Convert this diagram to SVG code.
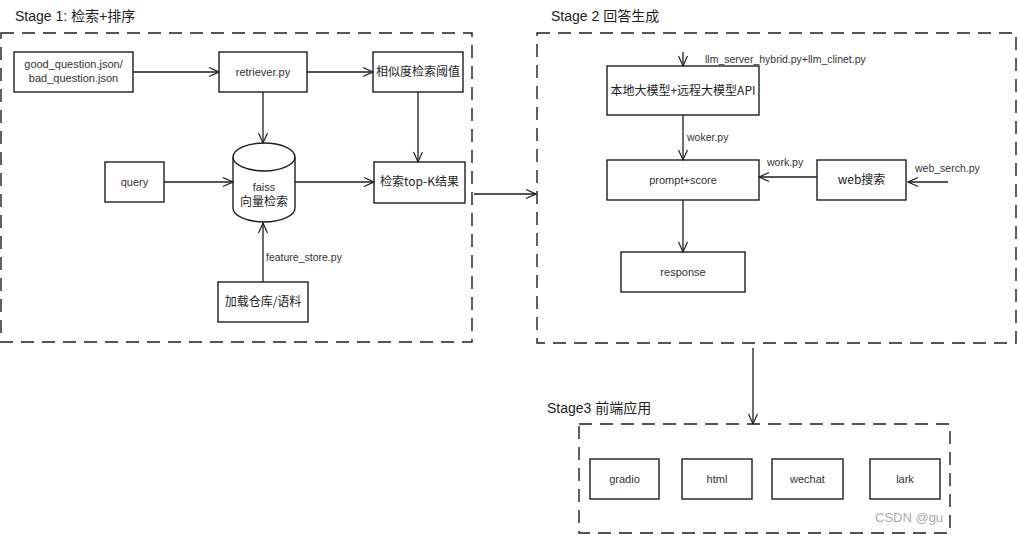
<svg xmlns="http://www.w3.org/2000/svg" width="1018" height="535" viewBox="0 0 1018 535">
<defs>
<marker id="ah" viewBox="0 0 12 12" refX="11" refY="6" markerWidth="12" markerHeight="12" markerUnits="userSpaceOnUse" orient="auto">
<path d="M1,1.5 L11,6 L1,10.5 M3,2.5 L11,6 L3,9.5" fill="none" stroke="#1e1e1e" stroke-width="1.1"/>
</marker>
<style>
.stage{fill:none;stroke:#1e1e1e;stroke-width:1.4;stroke-dasharray:13 8}
.node rect,.node path{fill:#fff;stroke:#1e1e1e;stroke-width:1.4}
.t{font-family:"Liberation Sans","Noto Sans CJK SC",sans-serif;font-size:11px;fill:#333;text-anchor:middle}
.zh{font-family:"Noto Sans CJK SC","Liberation Sans",sans-serif;font-size:12px;fill:#1e1e1e;text-anchor:middle}
.lbl{font-family:"Liberation Sans","Noto Sans CJK SC",sans-serif;font-size:10.5px;fill:#333}
.title{font-family:"Liberation Sans","Noto Sans CJK SC",sans-serif;font-size:14px;fill:#1e1e1e}
.edge{fill:none;stroke:#1e1e1e;stroke-width:1.3;marker-end:url(#ah)}
</style>
</defs>
<rect width="1018" height="535" fill="#fff"/>

<g id="stage1">
<text class="title" x="15" y="21">Stage 1: 检索+排序</text>
<rect class="stage" x="1" y="33" width="471" height="309"/>
</g>
<g id="stage2">
<text class="title" x="551" y="21">Stage 2 回答生成</text>
<rect class="stage" x="537" y="33" width="479" height="310"/>
</g>
<g id="stage3">
<text class="title" x="547" y="413">Stage3 前端应用</text>
<rect class="stage" x="579" y="424" width="371" height="109"/>
</g>

<g id="n-json" class="node">
<rect x="14" y="52" width="119" height="40"/>
<text class="t" x="73.5" y="68">good_question.json/</text>
<text class="t" x="73.5" y="82">bad_question.json</text>
</g>
<g id="n-retriever" class="node">
<rect x="219" y="52" width="88" height="40"/>
<text class="t" x="263" y="76">retriever.py</text>
</g>
<g id="n-threshold" class="node">
<rect x="373" y="52" width="90" height="40"/>
<text class="zh" x="418" y="76">相似度检索阈值</text>
</g>
<g id="n-faiss" class="node">
<path d="M233,157 A31,14 0 0 1 295,157 L295,208 A31,14 0 0 1 233,208 Z"/>
<path d="M233,157 A31,14 0 0 0 295,157" fill="none"/>
<text class="t" x="264" y="191">faiss</text>
<text class="zh" x="264" y="206">向量检索</text>
</g>
<g id="n-query" class="node">
<rect x="105" y="162" width="59" height="40"/>
<text class="t" x="134.5" y="186">query</text>
</g>
<g id="n-topk" class="node">
<rect x="374" y="162" width="91" height="41"/>
<text class="zh" x="419.5" y="186">检索top-K结果</text>
</g>
<g id="n-load" class="node">
<rect x="218" y="282" width="90" height="40"/>
<text class="zh" x="263" y="306">加载仓库/语料</text>
</g>

<g id="n-llm" class="node">
<rect x="607" y="66" width="152" height="49"/>
<text class="zh" x="683" y="95">本地大模型+远程大模型API</text>
</g>
<g id="n-prompt" class="node">
<rect x="607" y="160" width="152" height="40"/>
<text class="t" x="683" y="184">prompt+score</text>
</g>
<g id="n-web" class="node">
<rect x="817" y="160" width="89" height="40"/>
<text class="zh" x="861.5" y="184">web搜索</text>
</g>
<g id="n-response" class="node">
<rect x="621" y="252" width="124" height="40"/>
<text class="t" x="683" y="276">response</text>
</g>

<g id="n-gradio" class="node">
<rect x="590" y="459" width="69" height="40"/>
<text class="t" x="624.5" y="483">gradio</text>
</g>
<g id="n-html" class="node">
<rect x="682" y="459" width="70" height="40"/>
<text class="t" x="717" y="483">html</text>
</g>
<g id="n-wechat" class="node">
<rect x="772" y="459" width="71" height="40"/>
<text class="t" x="807.5" y="483">wechat</text>
</g>
<g id="n-lark" class="node">
<rect x="870" y="459" width="70" height="40"/>
<text class="t" x="905" y="483">lark</text>
</g>

<g id="edges">
<path class="edge" d="M133,72 L219,72"/>
<path class="edge" d="M307,72 L373,72"/>
<path class="edge" d="M263,92 L263,143"/>
<path class="edge" d="M418,92 L418,162"/>
<path class="edge" d="M164,182 L233,182"/>
<path class="edge" d="M295,182 L374,182"/>
<path class="edge" d="M263,282 L263,223"/>
<text class="lbl" x="266" y="261">feature_store.py</text>
<path class="edge" d="M474,194 L536,194"/>
<path class="edge" d="M683,52 L683,66"/>
<text class="lbl" x="705" y="63">llm_server_hybrid.py+llm_clinet.py</text>
<path class="edge" d="M683,115 L683,160"/>
<text class="lbl" x="687" y="141">woker.py</text>
<path class="edge" d="M817,177 L759,177"/>
<text class="lbl" x="767" y="166">work.py</text>
<path class="edge" d="M948,182 L908,182"/>
<text class="lbl" x="915" y="172">web_serch.py</text>
<path class="edge" d="M683,200 L683,252"/>
<path class="edge" d="M753,348 L753,424"/>
</g>
<text x="875" y="522" font-family="Liberation Sans, sans-serif" font-size="13" fill="#aaa">CSDN @gu</text>
</svg>
